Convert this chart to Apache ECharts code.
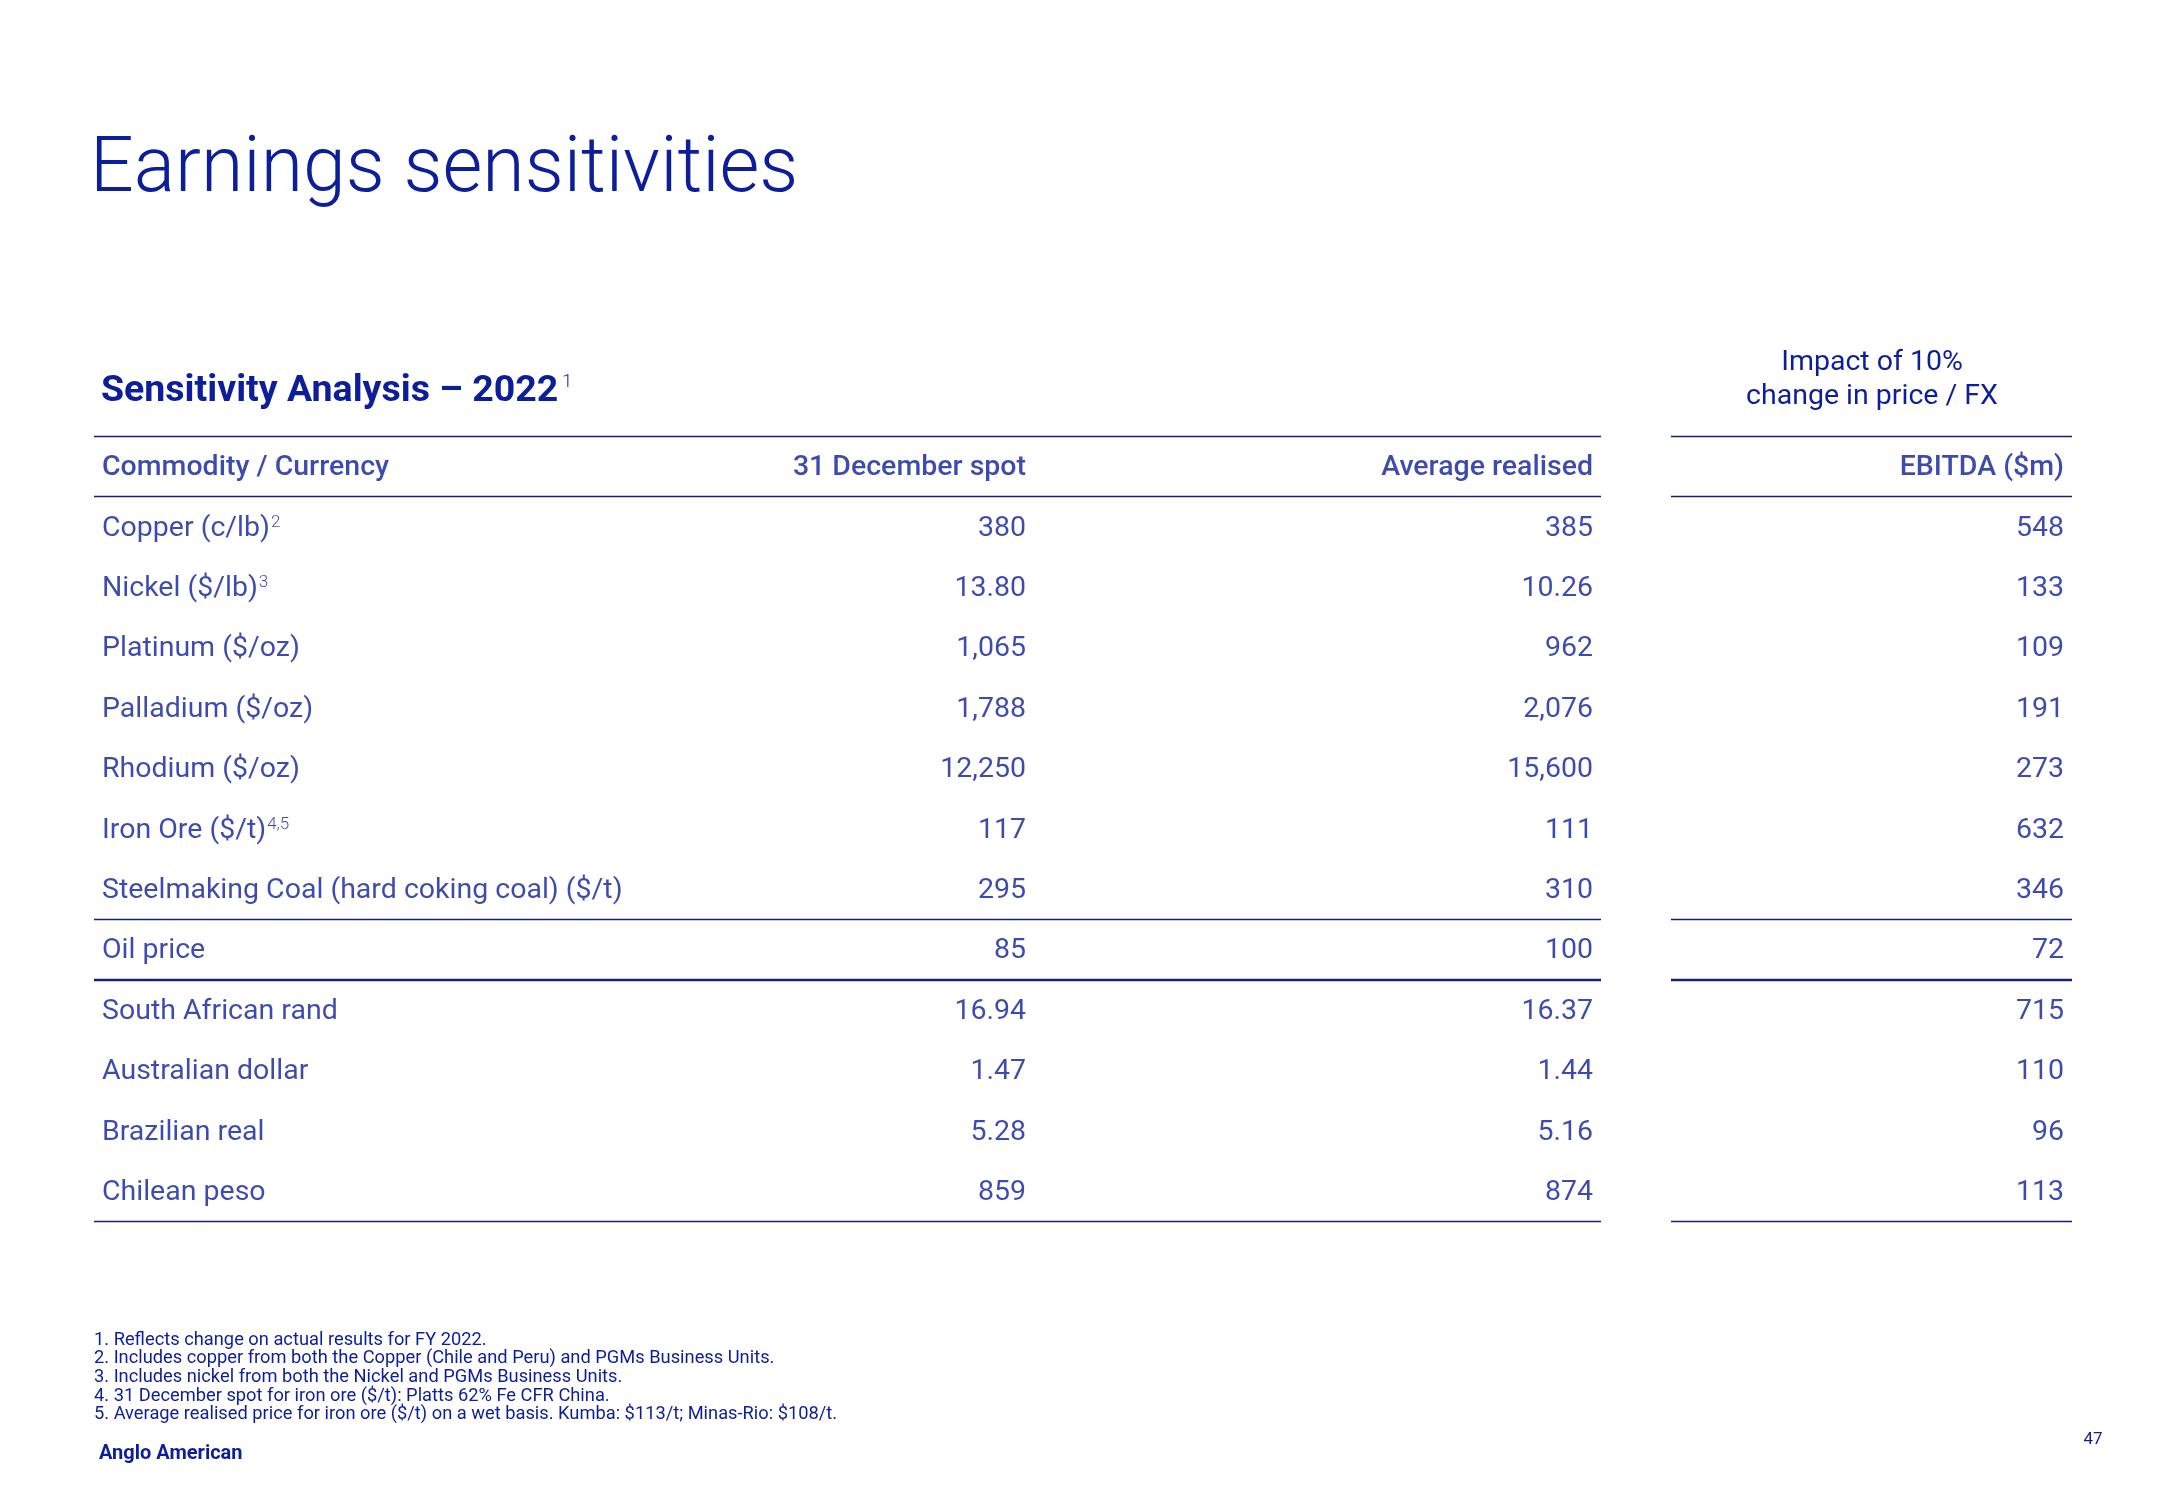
<!DOCTYPE html>
<html>
<head>
<meta charset="utf-8">
<script src="https://cdn.jsdelivr.net/npm/echarts@6/dist/echarts.min.js"></script>
<style>
html,body{margin:0;padding:0;background:#fff;}
#chart{width:2166px;height:1500px;}
</style>
</head>
<body>
<div id="chart"></div>
<script>
// ---------- data ----------
const columnHeaders = ['Commodity / Currency', '31 December spot', 'Average realised', 'EBITDA ($m)'];
const commodities = ['Copper (c/lb)', 'Nickel ($/lb)', 'Platinum ($/oz)', 'Palladium ($/oz)', 'Rhodium ($/oz)', 'Iron Ore ($/t)', 'Steelmaking Coal (hard coking coal) ($/t)', 'Oil price', 'South African rand', 'Australian dollar', 'Brazilian real', 'Chilean peso'];
const footnoteRefs = ['2', '3', '', '', '', '4,5', '', '', '', '', '', ''];
const spot = [380, 13.80, 1065, 1788, 12250, 117, 295, 85, 16.94, 1.47, 5.28, 859];
const avgRealised = [385, 10.26, 962, 2076, 15600, 111, 310, 100, 16.37, 1.44, 5.16, 874];
const ebitda = [548, 133, 109, 191, 273, 632, 346, 72, 715, 110, 96, 113];
const priceDecimals = [0, 2, 0, 0, 0, 0, 0, 0, 2, 2, 2, 0];
const ebitdaDecimals = [0, 0, 0, 0, 0, 0, 0, 0, 0, 0, 0, 0];
const impactHeader = ['Impact of 10%', 'change in price / FX'];
const footnotes = [
  '1. Reflects change on actual results for FY 2022.',
  '2. Includes copper from both the Copper (Chile and Peru) and PGMs Business Units.',
  '3. Includes nickel from both the Nickel and PGMs Business Units.',
  '4. 31 December spot for iron ore ($/t): Platts 62% Fe CFR China.',
  '5. Average realised price for iron ore ($/t) on a wet basis. Kumba: $113/t; Minas-Rio: $108/t.'
];
// row boundaries that carry a rule (0 = top of header); thick one between oil and currencies
const ruleRows = [0, 1, 8, 13];
const thickRuleRows = [9];

// ---------- styling / layout ----------
const NAVY = '#0d1e9a';
const RULE = '#16206e';
const FONT = 'Roboto, "Noto Sans", sans-serif';
const BODY_SIZE = 28.5;
const leftGrid = {left: 94, width: 1507};
const rightGrid = {left: 1671, width: 401};
const tableTop = 436, tableHeight = 785;
const nRows = commodities.length + 1;
const pad = 8;

function fmt(v, d) {
  return v.toLocaleString('en-US', {minimumFractionDigits: d, maximumFractionDigits: d});
}

function colData(headerText, values, xPos, dec) {
  const arr = [{value: [xPos, 0.5], name: headerText,
    label: {formatter: headerText, fontWeight: 500}}];
  values.forEach((v, i) => {
    let txt;
    if (!dec) {
      txt = '{m|' + v + '}' + (footnoteRefs[i] ? '{s|' + footnoteRefs[i] + '}' : '');
    } else {
      txt = fmt(v, dec[i]);
    }
    arr.push({value: [xPos, i + 1.5], name: String(v), label: {formatter: txt}});
  });
  return arr;
}

function rules() {
  const d = ruleRows.map(r => ({yAxis: r}));
  thickRuleRows.forEach(r => d.push({yAxis: r, lineStyle: {width: 2.4}}));
  return {
    silent: true, symbol: 'none', animation: false,
    label: {show: false},
    lineStyle: {color: RULE, width: 1.4, type: 'solid'},
    data: d
  };
}

const baseLabel = {
  show: true, color: NAVY, fontFamily: FONT, fontSize: BODY_SIZE, fontWeight: 400, distance: 0,
  offset: [0, 2],
  rich: {
    m: {color: NAVY, fontFamily: FONT, fontSize: BODY_SIZE, fontWeight: 400},
    s: {color: NAVY, fontFamily: FONT, fontSize: 17, fontWeight: 300, verticalAlign: 'top', padding: [0, 0, 0, 1]}
  }
};

const chart = echarts.init(document.getElementById('chart'), null, {renderer: 'canvas'});
chart.setOption({
  animation: false,
  backgroundColor: '#ffffff',
  grid: [
    {left: leftGrid.left, width: leftGrid.width, top: tableTop, height: tableHeight},
    {left: rightGrid.left, width: rightGrid.width, top: tableTop, height: tableHeight}
  ],
  xAxis: [
    {gridIndex: 0, type: 'value', min: 0, max: leftGrid.width, show: false},
    {gridIndex: 1, type: 'value', min: 0, max: rightGrid.width, show: false}
  ],
  yAxis: [
    {gridIndex: 0, type: 'value', min: 0, max: nRows, inverse: true, show: false},
    {gridIndex: 1, type: 'value', min: 0, max: nRows, inverse: true, show: false}
  ],
  series: [
    {type: 'scatter', xAxisIndex: 0, yAxisIndex: 0, symbolSize: 0, silent: true,
      data: colData(columnHeaders[0], commodities, pad, null),
      label: Object.assign({}, baseLabel, {position: 'right'}),
      markLine: rules()},
    {type: 'scatter', xAxisIndex: 0, yAxisIndex: 0, symbolSize: 0, silent: true,
      data: colData(columnHeaders[1], spot, 932, priceDecimals),
      label: Object.assign({}, baseLabel, {position: 'left'})},
    {type: 'scatter', xAxisIndex: 0, yAxisIndex: 0, symbolSize: 0, silent: true,
      data: colData(columnHeaders[2], avgRealised, leftGrid.width - pad, priceDecimals),
      label: Object.assign({}, baseLabel, {position: 'left'})},
    {type: 'scatter', xAxisIndex: 1, yAxisIndex: 1, symbolSize: 0, silent: true,
      data: colData(columnHeaders[3], ebitda, rightGrid.width - pad, ebitdaDecimals),
      label: Object.assign({}, baseLabel, {position: 'left'}),
      markLine: rules()}
  ],
  graphic: [
    {type: 'text', x: 90, y: 172, style: {text: 'Earnings sensitivities', fill: NAVY,
      font: '300 77px ' + FONT, verticalAlign: 'middle'}},
    {type: 'text', x: 101, y: 392, style: {
      text: '{t|Sensitivity Analysis \u2013 2022}{s|1}', verticalAlign: 'middle',
      rich: {
        t: {fill: NAVY, fontFamily: FONT, fontWeight: 'bold', fontSize: 37.5},
        s: {fill: NAVY, fontFamily: FONT, fontWeight: 300, fontSize: 18, verticalAlign: 'top', padding: [0, 0, 0, 4]}
      }}},
    {type: 'text', x: 1872, y: 363, style: {text: impactHeader[0], fill: NAVY,
      font: '400 ' + BODY_SIZE + 'px ' + FONT, align: 'center', verticalAlign: 'middle'}},
    {type: 'text', x: 1872, y: 397, style: {text: impactHeader[1], fill: NAVY,
      font: '400 ' + BODY_SIZE + 'px ' + FONT, align: 'center', verticalAlign: 'middle'}},
    {type: 'text', x: 94, y: 1331, style: {text: footnotes.join('\n'), fill: NAVY,
      font: '400 18.3px ' + FONT, lineHeight: 18.6, verticalAlign: 'top'}},
    {type: 'text', x: 99, y: 1454, style: {text: 'Anglo American', fill: NAVY,
      font: 'bold 20px ' + FONT, verticalAlign: 'middle'}},
    {type: 'text', x: 2093, y: 1440, style: {text: '47', fill: NAVY,
      font: '400 17px ' + FONT, align: 'center', verticalAlign: 'middle'}}
  ]
});
</script>
</body>
</html>
